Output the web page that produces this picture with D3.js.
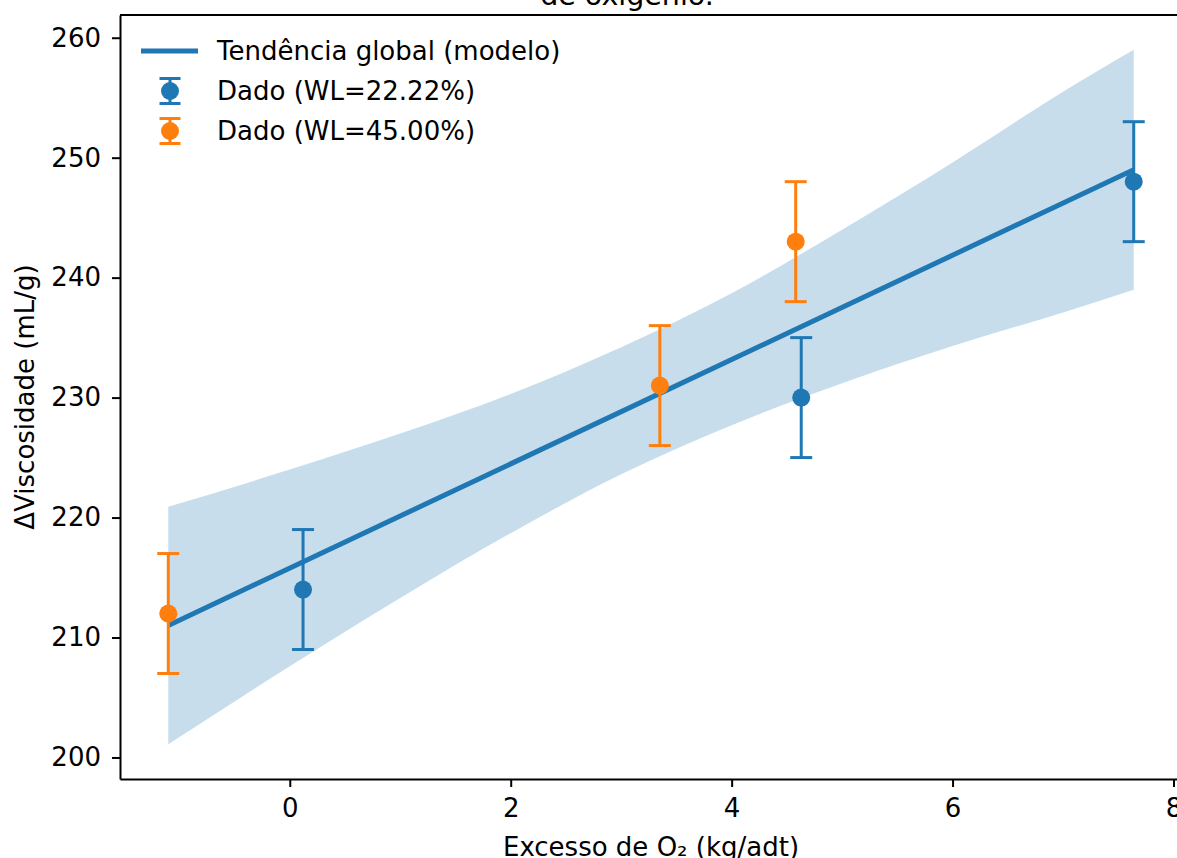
<!DOCTYPE html>
<html>
<head>
<meta charset="utf-8">
<script src="https://cdn.jsdelivr.net/npm/d3@7"></script>
<style>
  html, body { margin: 0; padding: 0; background: #fff; }
  svg { display: block; font-family: "DejaVu Sans", sans-serif; }
  .axis text { font-size: 26px; fill: #000; }
  .axis line, .axis path { stroke: #000; stroke-width: 2; }
</style>
</head>
<body>
<div id="chart"></div>
<script>
// values
const seriesA = { label: 'Dado (WL=22.22%)', x: [0.12, 4.63, 7.64], y: [214, 230, 248], err: [5, 5, 5] };
const seriesB = { label: 'Dado (WL=45.00%)', x: [-1.1, 3.35, 4.58], y: [212, 231, 243], err: [5, 5, 5] };
const trendX = [-1.1, 7.64];
const trendY = [211.0, 249.0];
const bandX = [-1.1, 0, 1, 2, 3, 4, 5, 6, 7, 7.64];
const bandLow = [201.1, 207.6, 213.3, 218.7, 223.6, 227.7, 231.2, 234.3, 237.1, 239.0];
const bandHigh = [220.9, 224.0, 227.0, 230.3, 234.2, 238.7, 244.0, 249.6, 255.5, 259.0];
const xTicks = [0, 2, 4, 6, 8];
const yTicks = [200, 210, 220, 230, 240, 250, 260];
const trendLabel = 'Tendência global (modelo)';
const titleTail = 'de oxigênio.';
const xLabel = 'Excesso de O\u2082 (kg/adt)';
const yLabel = '\u0394Viscosidade (mL/g)';

const width = 1177;
const height = 858;
const blue = '#1f77b4';
const orange = '#ff7f0e';

const svg = d3.select('#chart')
  .append('svg')
  .attr('width', width)
  .attr('height', height);

// matplotlib style 5% margins around the data
const xs = bandX.concat(seriesA.x, seriesB.x);
const ys = bandLow.concat(bandHigh);
const xMin = d3.min(xs), xMax = d3.max(xs);
const yMin = d3.min(ys), yMax = d3.max(ys);
const xPad = (xMax - xMin) * 0.05;
const yPad = (yMax - yMin) * 0.05;

const plot = { left: 120, right: 1182, top: 15, bottom: 779 };

const x = d3.scaleLinear()
  .domain([xMin - xPad, xMax + xPad])
  .range([plot.left, plot.right]);

const y = d3.scaleLinear()
  .domain([yMin - yPad, yMax + yPad])
  .range([plot.bottom, plot.top]);

// confidence band
const band = bandX.map((d, i) => ({ x: d, lo: bandLow[i], hi: bandHigh[i] }));
svg.append('path')
  .datum(band)
  .attr('fill', blue)
  .attr('fill-opacity', 0.25)
  .attr('d', d3.area().curve(d3.curveMonotoneX).x(d => x(d.x)).y0(d => y(d.lo)).y1(d => y(d.hi)));

// trend line
svg.append('path')
  .datum(trendX.map((d, i) => [d, trendY[i]]))
  .attr('fill', 'none')
  .attr('stroke', blue)
  .attr('stroke-width', 5)
  .attr('d', d3.line().x(d => x(d[0])).y(d => y(d[1])));

// error bars + markers
function drawSeries(s, color) {
  const pts = s.x.map((d, i) => ({ x: d, y: s.y[i], e: s.err[i] }));
  const g = svg.append('g');
  const item = g.selectAll('g').data(pts).enter().append('g');
  item.append('line')
    .attr('x1', d => x(d.x)).attr('x2', d => x(d.x))
    .attr('y1', d => y(d.y - d.e)).attr('y2', d => y(d.y + d.e))
    .attr('stroke', color).attr('stroke-width', 3);
  [-1, 1].forEach(sign => {
    item.append('line')
      .attr('x1', d => x(d.x) - 11).attr('x2', d => x(d.x) + 11)
      .attr('y1', d => y(d.y + sign * d.e)).attr('y2', d => y(d.y + sign * d.e))
      .attr('stroke', color).attr('stroke-width', 3);
  });
  item.append('circle')
    .attr('cx', d => x(d.x)).attr('cy', d => y(d.y))
    .attr('r', 9).attr('fill', color);
}
drawSeries(seriesA, blue);
drawSeries(seriesB, orange);

// axes
svg.append('g')
  .attr('class', 'axis')
  .attr('transform', `translate(0,${plot.bottom})`)
  .call(d3.axisBottom(x).tickValues(xTicks).tickFormat(d3.format('d')).tickSize(8).tickSizeOuter(0).tickPadding(12));

svg.append('g')
  .attr('class', 'axis')
  .attr('transform', `translate(${plot.left},0)`)
  .call(d3.axisLeft(y).tickValues(yTicks).tickFormat(d3.format('d')).tickSize(8).tickSizeOuter(0).tickPadding(11));

svg.selectAll('.axis text').attr('font-family', '"DejaVu Sans", sans-serif');

// top and right spines
svg.append('line')
  .attr('x1', plot.left).attr('x2', plot.right)
  .attr('y1', plot.top).attr('y2', plot.top)
  .attr('stroke', '#000').attr('stroke-width', 2);
svg.append('line')
  .attr('x1', plot.right).attr('x2', plot.right)
  .attr('y1', plot.top).attr('y2', plot.bottom)
  .attr('stroke', '#000').attr('stroke-width', 2);

// labels
svg.append('text')
  .attr('x', (plot.left + plot.right) / 2)
  .attr('y', 856)
  .attr('text-anchor', 'middle')
  .attr('font-size', 26)
  .text(xLabel);

svg.append('text')
  .attr('transform', `translate(25,${(plot.top + plot.bottom) / 2}) rotate(-90)`)
  .attr('text-anchor', 'middle')
  .attr('dominant-baseline', 'central')
  .attr('font-size', 26)
  .text(yLabel);

// title, only its last line shows inside the frame
svg.append('text')
  .attr('x', 627)
  .attr('y', 5)
  .attr('text-anchor', 'middle')
  .attr('font-size', 28.5)
  .text(titleTail);

// legend
const legend = svg.append('g');
legend.append('line')
  .attr('x1', 141).attr('x2', 198).attr('y1', 51).attr('y2', 51)
  .attr('stroke', blue).attr('stroke-width', 5);
legend.append('text')
  .attr('x', 217).attr('y', 51).attr('dy', '0.36em')
  .attr('font-size', 26)
  .text(trendLabel);

[[seriesA, blue, 91], [seriesB, orange, 131]].forEach(([s, color, cy]) => {
  legend.append('line')
    .attr('x1', 170).attr('x2', 170).attr('y1', cy - 12.5).attr('y2', cy + 12.5)
    .attr('stroke', color).attr('stroke-width', 3);
  [-12.5, 12.5].forEach(off => {
    legend.append('line')
      .attr('x1', 159.5).attr('x2', 180.5).attr('y1', cy + off).attr('y2', cy + off)
      .attr('stroke', color).attr('stroke-width', 3);
  });
  legend.append('circle').attr('cx', 170).attr('cy', cy).attr('r', 9).attr('fill', color);
  legend.append('text')
    .attr('x', 217).attr('y', cy).attr('dy', '0.36em')
    .attr('font-size', 26)
    .text(s.label);
});
</script>
</body>
</html>
